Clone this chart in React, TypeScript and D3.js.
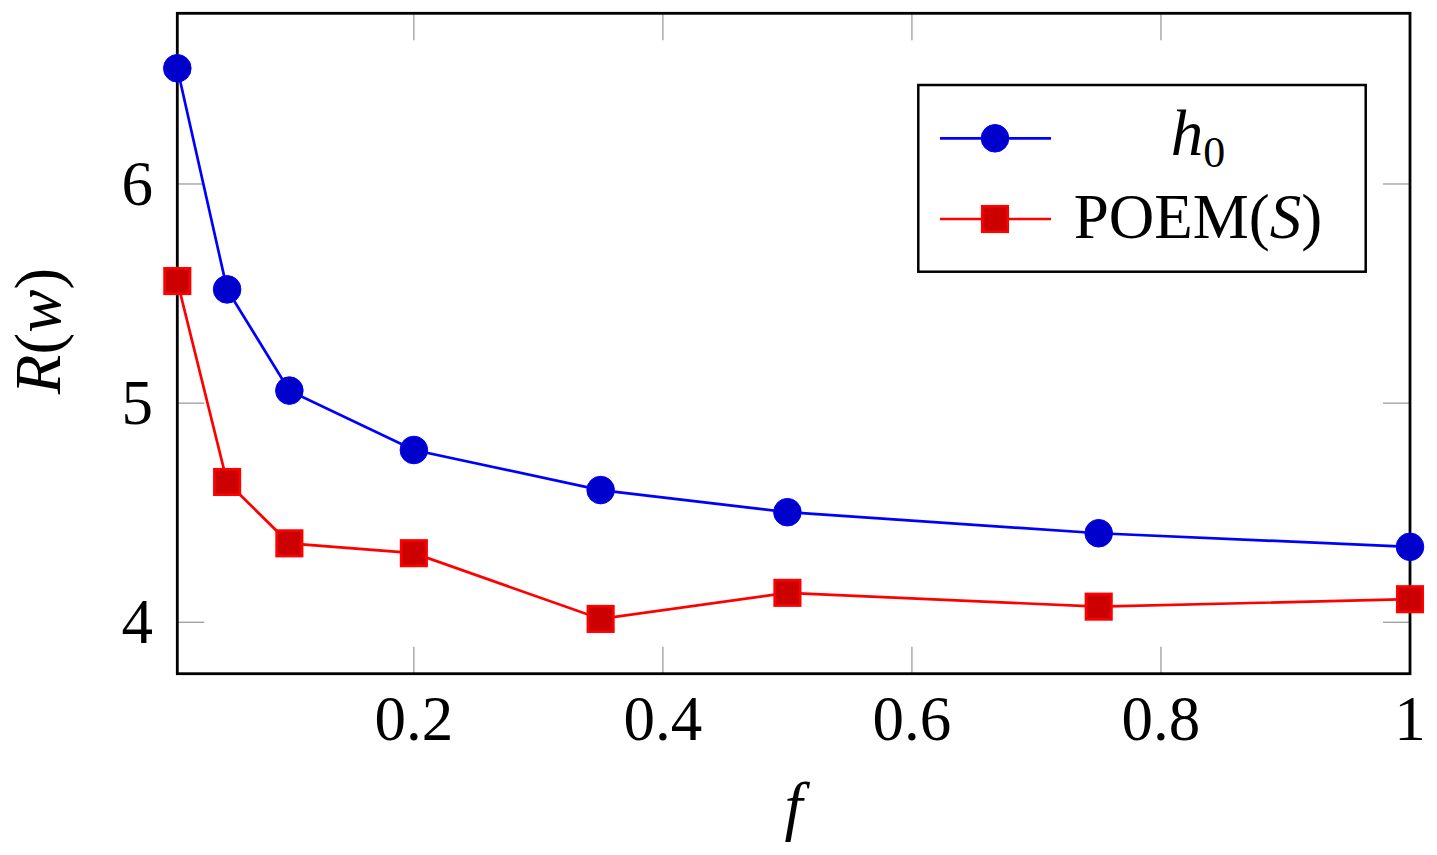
import React from 'react';
import * as d3 from 'd3';

// values
const fValues = [0.01, 0.05, 0.1, 0.2, 0.35, 0.5, 0.75, 1];
const h0Values = [6.528, 5.519, 5.057, 4.786, 4.603, 4.502, 4.406, 4.344];
const poemValues = [5.557, 4.64, 4.36, 4.315, 4.015, 4.134, 4.071, 4.105];

const xTicks = [0.2, 0.4, 0.6, 0.8, 1];
const yTicks = [4, 5, 6];

const W = 1437;
const H = 855;
const plot = { left: 177.3, right: 1410, top: 13.3, bottom: 673.7 };
const FONT = '"Liberation Serif", "DejaVu Serif", serif';
const FS = 63;
const TICK = 27;
const LW = 2.7;

const App = () => {
  const x = d3.scaleLinear().domain([0.01, 1]).range([plot.left, plot.right]);
  const y = d3.scaleLinear().domain([3.765, 6.779]).range([plot.bottom, plot.top]);

  const line = d3.line<number>()
    .x((_, i) => x(fValues[i]))
    .y(d => y(d));

  const sq = 25.5; // red square side (without stroke)

  return (
    <svg width={W} height={H} style={{ position: 'absolute', left: 0, top: 0, background: '#fff' }}>
      {/* ticks, inward on all four sides */}
      {xTicks.map(t => (
        <g key={'xt' + t} stroke="#808080" strokeWidth={1}>
          <line x1={x(t)} x2={x(t)} y1={plot.bottom} y2={plot.bottom - TICK} />
          <line x1={x(t)} x2={x(t)} y1={plot.top} y2={plot.top + TICK} />
        </g>
      ))}
      {yTicks.map(t => (
        <g key={'yt' + t} stroke="#808080" strokeWidth={1}>
          <line x1={plot.left} x2={plot.left + TICK} y1={y(t)} y2={y(t)} />
          <line x1={plot.right} x2={plot.right - TICK} y1={y(t)} y2={y(t)} />
        </g>
      ))}

      {/* series lines */}
      <path d={line(h0Values) || ''} fill="none" stroke="#0000ff" strokeWidth={LW} />
      <path d={line(poemValues) || ''} fill="none" stroke="#ff0000" strokeWidth={LW} />

      {/* frame */}
      <rect x={plot.left} y={plot.top} width={plot.right - plot.left} height={plot.bottom - plot.top}
        fill="none" stroke="#000" strokeWidth={2.8} />

      {/* markers */}
      {h0Values.map((v, i) => (
        <circle key={'c' + i} cx={x(fValues[i])} cy={y(v)} r={13.8} fill="#0000cc" stroke="#0000ff" strokeWidth={1} />
      ))}
      {poemValues.map((v, i) => (
        <rect key={'s' + i} x={x(fValues[i]) - sq / 2} y={y(v) - sq / 2} width={sq} height={sq}
          fill="#cc0000" stroke="#ff0000" strokeWidth={2.6} />
      ))}

      {/* tick labels */}
      <g fontFamily={FONT} fontSize={FS} fill="#000">
        {xTicks.map(t => (
          <text key={'xl' + t} x={x(t)} y={740} textAnchor="middle">{String(t)}</text>
        ))}
        {yTicks.map(t => (
          <text key={'yl' + t} x={153} y={y(t) + 21} textAnchor="end">{String(t)}</text>
        ))}
      </g>

      {/* axis labels */}
      <text x={(plot.left + plot.right) / 2} y={828} textAnchor="middle" fontFamily={FONT} fontSize={FS + 2} fontStyle="italic">f</text>
      <text transform="translate(60,331) rotate(-90)" textAnchor="middle" fontFamily={FONT} fontSize={FS + 2}>
        <tspan fontStyle="italic">R</tspan>(<tspan fontStyle="italic">w</tspan>)
      </text>

      {/* legend */}
      <g>
        <rect x={918.3} y={85} width={447.4} height={186.7} fill="#fff" stroke="#000" strokeWidth={2.5} />
        <line x1={940} x2={1051} y1={138.3} y2={138.3} stroke="#0000ff" strokeWidth={LW} />
        <circle cx={995} cy={138.3} r={13.8} fill="#0000cc" stroke="#0000ff" strokeWidth={1} />
        <line x1={940} x2={1051} y1={219} y2={219} stroke="#ff0000" strokeWidth={LW} />
        <rect x={995 - sq / 2} y={219 - sq / 2} width={sq} height={sq} fill="#cc0000" stroke="#ff0000" strokeWidth={2.6} />
        <text x={1198} y={155} textAnchor="middle" fontFamily={FONT} fontSize={FS + 2}>
          <tspan fontStyle="italic">h</tspan>
          <tspan fontSize={44} dy={12}>0</tspan>
        </text>
        <text x={1198} y={238} textAnchor="middle" fontFamily={FONT} fontSize={FS}>
          POEM(<tspan fontStyle="italic">S</tspan>)
        </text>
      </g>
    </svg>
  );
};

export default App;
